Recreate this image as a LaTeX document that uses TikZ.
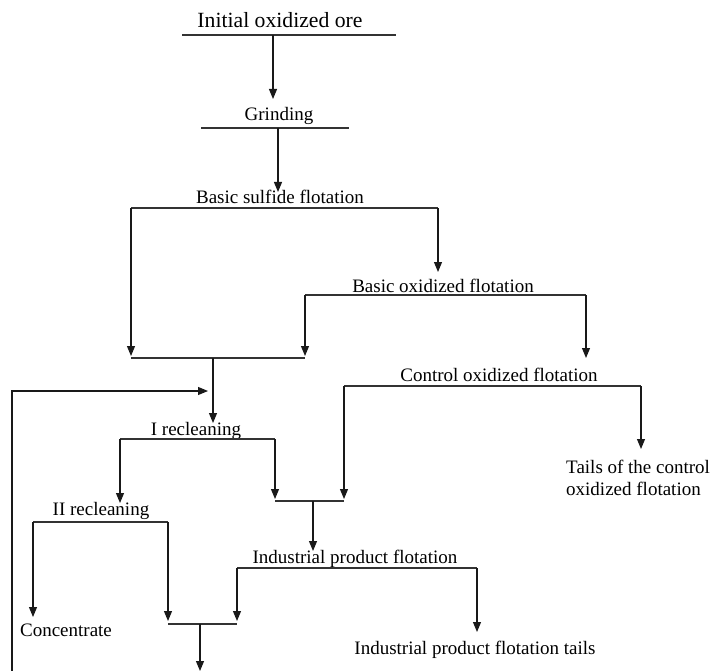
\documentclass[tikz,border=0pt]{standalone}
\usepackage{fontspec}
\setmainfont{Liberation Serif}
\usetikzlibrary{arrows.meta}
\tikzstyle{label} = [inner sep=0pt, anchor=base, font=\fontsize{19pt}{22pt}\selectfont]
\tikzstyle{bar} = [line width=1.1pt, draw=black!80]
\tikzstyle{arrow} = [line width=1.1pt, draw=black!90, ->, >={Triangle[length=10pt,width=8pt]}]

\begin{document}
\begin{tikzpicture}[x=1pt, y=-1pt]
        \useasboundingbox (0,0) rectangle (714,671);

        % Stufen
        \node (ore) [label, font=\fontsize{21.7pt}{24pt}\selectfont] at (280,28) {Initial oxidized ore};
        \node (grind) [label] at (279,121) {Grinding};
        \node (sulf) [label] at (280,203) {Basic sulfide flotation};
        \node (oxid) [label] at (443,292) {Basic oxidized flotation};
        \node (ctrl) [label] at (499,381) {Control oxidized flotation};
        \node (tails) [label, anchor=base west, align=left] at (566,495) {Tails of the control\\oxidized flotation};
        \node (recl1) [label] at (196,435) {I recleaning};
        \node (recl2) [label] at (101,515) {II recleaning};
        \node (conc) [label] at (66,636) {Concentrate};
        \node (ind) [label] at (355,563) {Industrial product flotation};
        \node (indtails) [label] at (475,654) {Industrial product flotation tails};

        % Linien unter den Stufen
        \draw [bar] (182,35) -- (396,35);
        \draw [bar] (201,128) -- (349,128);
        \draw [bar] (131,208) coordinate (sulfL) -- (438,208) coordinate (sulfR);
        \draw [bar] (305,295) coordinate (oxidL) -- (586,295) coordinate (oxidR);
        \draw [bar] (344,386) coordinate (ctrlL) -- (641,386) coordinate (ctrlR);
        \draw [bar] (120,439) coordinate (recl1L) -- (275,439) coordinate (recl1R);
        \draw [bar] (33,522) coordinate (recl2L) -- (168,522) coordinate (recl2R);
        \draw [bar] (237,568) coordinate (indL) -- (477,568) coordinate (indR);
        \draw [bar] (131,358) coordinate (join1L) -- (305,358) coordinate (join1R);
        \draw [bar] (275,501) coordinate (join2L) -- (344,501) coordinate (join2R);
        \draw [bar] (168,624) coordinate (join3L) -- (237,624) coordinate (join3R);

        \coordinate (oreout) at (273,35);
        \coordinate (grindin) at (273,99);
        \coordinate (grindout) at (278,128);
        \coordinate (sulfin) at (278,192);
        \coordinate (join1) at (213,358);
        \coordinate (recl1in) at (213,423);
        \coordinate (join2) at (313,501);
        \coordinate (indin) at (313,551);
        \coordinate (join3) at (200,624);
        \coordinate (out) at (200,671);
        \coordinate (back) at (12,671);
        \coordinate (backin) at (208,391);

        % Flechas
        \draw [arrow] (oreout) -- (grindin);
        \draw [arrow] (grindout) -- (sulfin);
        \draw [arrow] (sulfL) -- ([yshift=2pt]join1L);
        \draw [arrow] (sulfR) -- (438,272);
        \draw [arrow] (oxidL) -- ([yshift=2pt]join1R);
        \draw [arrow] (oxidR) -- (586,358);
        \draw [arrow] (join1) -- (recl1in);
        \draw [arrow] (back) |- (backin);
        \draw [arrow] (ctrlR) -- (641,449);
        \draw [arrow] (ctrlL) -- ([yshift=2pt]join2R);
        \draw [arrow] (recl1L) -- (120,503);
        \draw [arrow] (recl1R) -- ([yshift=2pt]join2L);
        \draw [arrow] (join2) -- (indin);
        \draw [arrow] (recl2L) -- (33,617);
        \draw [arrow] (recl2R) -- ([yshift=3pt]join3L);
        \draw [arrow] (indL) -- ([yshift=3pt]join3R);
        \draw [arrow] (indR) -- (477,632);
        \draw [arrow] (join3) -- (out);

    \end{tikzpicture}
\end{document}
